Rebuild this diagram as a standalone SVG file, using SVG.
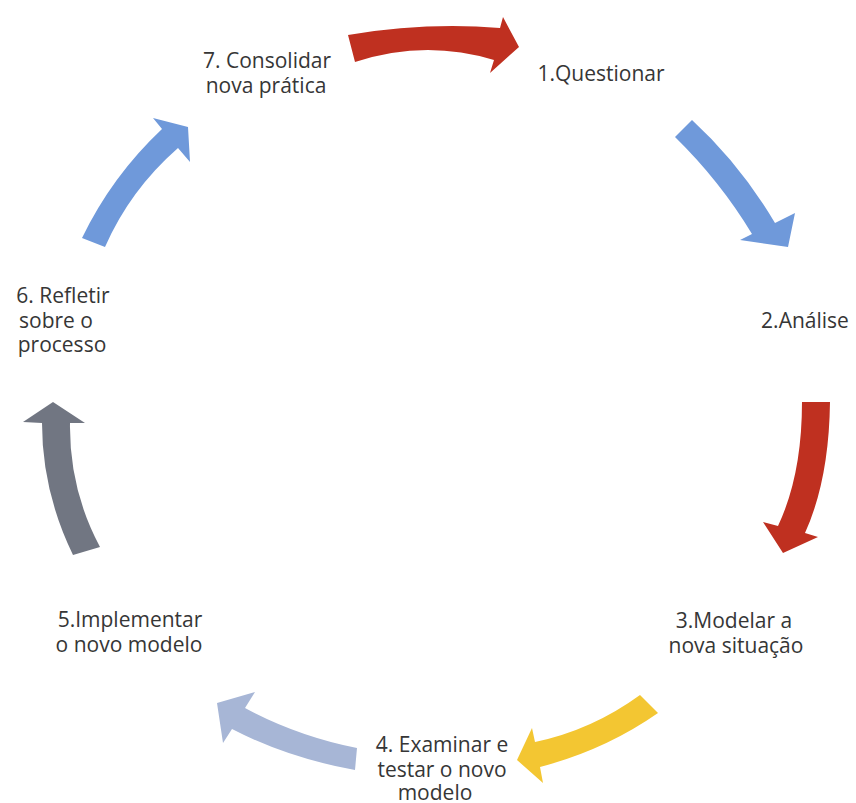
<svg xmlns="http://www.w3.org/2000/svg" width="856" height="803" viewBox="0 0 856 803">
  <style>
    .lbl { font-family: "Open Sans", "Liberation Sans", sans-serif; font-size: 21px; fill: #363636; text-anchor: middle; }
    .red { fill: #BF3020; }
    .blue { fill: #6F99DA; }
    .gold { fill: #F3C632; }
    .pale { fill: #A7B6D6; }
    .slate { fill: #717682; }
  </style>
  <rect width="856" height="803" fill="#ffffff"/>

  <!-- curved cycle arrows -->
  <g id="connectors">
    <path class="red" d="M348,35 Q425,22 500,28 L503,17 L519,47 L490,73 L494,60 Q425,39 355,62 Z"/>
    <path class="blue" d="M675,137 L692,120 Q740,164 775,223 L795,213 L788,247 L740,240 L752,234 Q720,181 675,137 Z"/>
    <path class="red" d="M802,402 L830,402 Q829,480 805,533 L818,537 L783,553 L763,522 L778,526 Q802,475 802,402 Z"/>
    <path class="gold" d="M640,695 L658,713 Q605,750 540,767 L543,783 L517,760 L532,728 L535,742 Q592,730 640,695 Z"/>
    <path class="pale" d="M357,748 L355,770 Q288,758 232,729 L223,743 L217,703 L255,692 L245,708 Q297,736 357,748 Z"/>
    <path class="slate" d="M73,555 L100,547 Q69,489 70,423 L85,423 L53,402 L23,422 L42,423 Q42,491 73,555 Z"/>
    <path class="blue" d="M82,238 L105,247 Q130,190 178,148 L190,162 L188,127 L153,118 L162,129 Q112,176 82,238 Z"/>
  </g>

  <g id="n1"><text class="lbl" x="601" y="81">1.Questionar</text></g>
  <g id="n2"><text class="lbl" x="805" y="328">2.Análise</text></g>
  <g id="n3">
    <text class="lbl" x="734" y="628">3.Modelar a</text>
    <text class="lbl" x="736" y="653">nova situação</text>
  </g>
  <g id="n4">
    <text class="lbl" x="442" y="752">4. Examinar e</text>
    <text class="lbl" x="442" y="777">testar o novo</text>
    <text class="lbl" x="435" y="800">modelo</text>
  </g>
  <g id="n5">
    <text class="lbl" x="130" y="627">5.Implementar</text>
    <text class="lbl" x="129" y="652">o novo modelo</text>
  </g>
  <g id="n6">
    <text class="lbl" x="63" y="303">6. Refletir</text>
    <text class="lbl" x="56" y="328">sobre o</text>
    <text class="lbl" x="62" y="352">processo</text>
  </g>
  <g id="n7">
    <text class="lbl" x="267" y="68">7. Consolidar</text>
    <text class="lbl" x="266" y="93">nova prática</text>
  </g>
</svg>
